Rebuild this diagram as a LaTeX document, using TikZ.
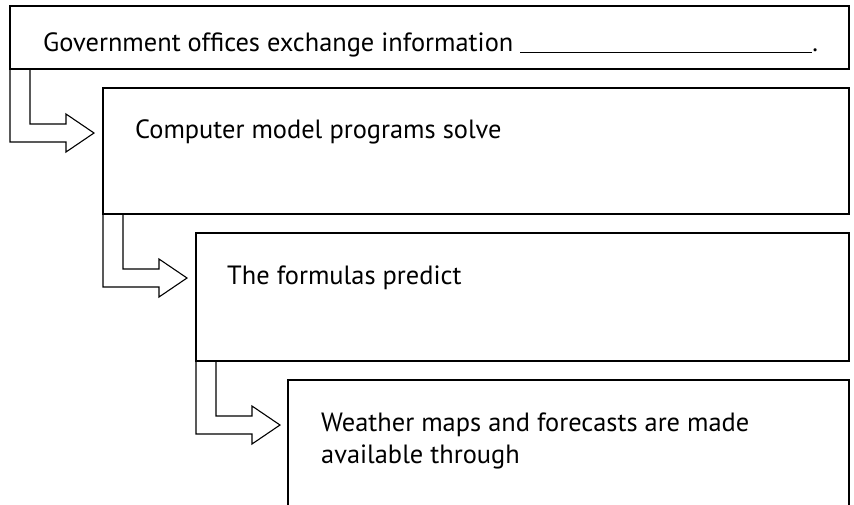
\documentclass[tikz,border=0pt]{standalone}
\usepackage{fontspec}
\setmainfont{PT Sans}
\usetikzlibrary{calc}
\tikzset{
  stage/.style={draw, line width=2.6pt, outer sep=0pt, inner sep=0pt, anchor=north west},
  stagetext/.style={anchor=base west, inner sep=0pt, align=left, font=\fontsize{26.4}{32}\selectfont},
  flow/.style={line width=1.1pt, line join=miter}
}
\newcommand{\lflow}[2]{%
  \draw[flow] (#1.south west)
    -- ($(#1.south west |- #2.north west)+(0,54)$)
    -- ($(#1.south west |- #2.north west)+(56,54)$)
    -- ($(#1.south west |- #2.north west)+(56,64)$)
    -- ($(#1.south west |- #2.north west)+(84,45)$)
    -- ($(#1.south west |- #2.north west)+(56,26)$)
    -- ($(#1.south west |- #2.north west)+(56,36)$)
    -- ($(#1.south west |- #2.north west)+(20,36)$)
    -- ($(#1.south west)+(20,0)$);}
\begin{document}
\begin{tikzpicture}[x=1pt,y=-1pt]
  \clip (0,0) rectangle (854,504);
  \node[stage, minimum width=839, minimum height=63] (gov) at (10,6) {};
  \node[stage, minimum width=746, minimum height=126] (model) at (103,88) {};
  \node[stage, minimum width=653, minimum height=128] (formula) at (196,233) {};
  \node[stage, minimum width=561, minimum height=170] (maps) at (288,380) {};
  \node[stagetext] (govtext) at ($(gov.north west)+(33,45)$)
    {Government offices exchange information \rule[-1.5pt]{292pt}{0.9pt}.};
  \node[stagetext] (modeltext) at ($(model.north west)+(32,50)$) {Computer model programs solve};
  \node[stagetext] (formulatext) at ($(formula.north west)+(31,51)$) {The formulas predict};
  % two lines: base anchor sits on the second line
  \node[stagetext] (mapstext) at ($(maps.north west)+(33,83)$)
    {Weather maps and forecasts are made\\available through};
  \lflow{gov}{model}
  \lflow{model}{formula}
  \lflow{formula}{maps}
\end{tikzpicture}
\end{document}
